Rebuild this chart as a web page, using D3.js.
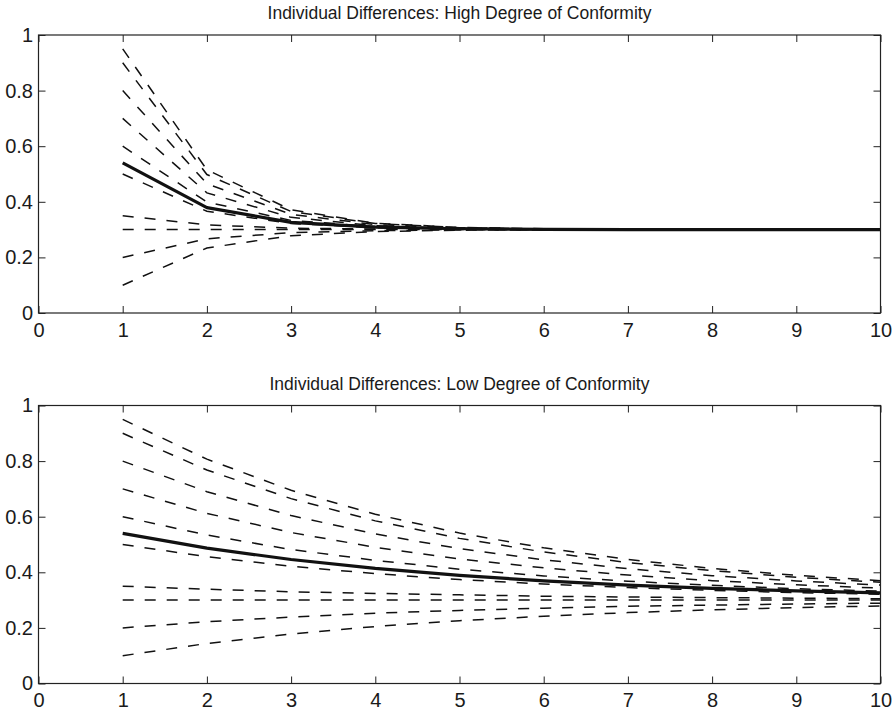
<!DOCTYPE html>
<html><head><meta charset="utf-8">
<script src="https://cdn.jsdelivr.net/npm/d3@7"></script>
<style>body{margin:0;background:#fff}svg{display:block}text{font-family:"Liberation Sans",Arial,sans-serif;fill:#1a1a1a}</style>
</head><body>
<script>
const steps = [1,2,3,4,5,6,7,8,9,10];
const xTicks = [0,1,2,3,4,5,6,7,8,9,10];
const yTicks = [0,0.2,0.4,0.6,0.8,1];
const titles = ["Individual Differences: High Degree of Conformity","Individual Differences: Low Degree of Conformity"];

// High conformity: individual series (dashed)
const highIndividuals = [
  [0.95,0.515,0.371,0.323,0.308,0.303,0.301,0.300,0.300,0.300],
  [0.90,0.498,0.365,0.322,0.307,0.302,0.301,0.300,0.300,0.300],
  [0.80,0.465,0.355,0.318,0.306,0.302,0.301,0.300,0.300,0.300],
  [0.70,0.432,0.344,0.314,0.305,0.302,0.300,0.300,0.300,0.300],
  [0.60,0.399,0.333,0.311,0.304,0.301,0.300,0.300,0.300,0.300],
  [0.50,0.366,0.322,0.307,0.302,0.301,0.300,0.300,0.300,0.300],
  [0.35,0.317,0.305,0.302,0.301,0.300,0.300,0.300,0.300,0.300],
  [0.30,0.300,0.300,0.300,0.300,0.300,0.300,0.300,0.300,0.300],
  [0.20,0.267,0.289,0.296,0.299,0.300,0.300,0.300,0.300,0.300],
  [0.10,0.234,0.278,0.293,0.298,0.299,0.300,0.300,0.300,0.300]
];
const highMean = [0.54,0.379,0.326,0.309,0.303,0.301,0.300,0.300,0.300,0.300];

// Low conformity
const lowIndividuals = [
  [0.95,0.807,0.695,0.609,0.541,0.488,0.446,0.414,0.389,0.370],
  [0.90,0.768,0.665,0.585,0.522,0.473,0.435,0.406,0.382,0.364],
  [0.80,0.690,0.604,0.538,0.485,0.445,0.413,0.388,0.369,0.354],
  [0.70,0.612,0.543,0.490,0.448,0.416,0.390,0.370,0.355,0.343],
  [0.60,0.534,0.482,0.443,0.411,0.387,0.368,0.353,0.341,0.332],
  [0.50,0.456,0.422,0.395,0.374,0.358,0.345,0.335,0.327,0.321],
  [0.35,0.339,0.330,0.324,0.319,0.314,0.311,0.309,0.307,0.305],
  [0.30,0.300,0.300,0.300,0.300,0.300,0.300,0.300,0.300,0.300],
  [0.20,0.222,0.239,0.253,0.263,0.271,0.278,0.282,0.286,0.289],
  [0.10,0.144,0.178,0.205,0.226,0.242,0.255,0.265,0.273,0.279]
];
const lowMean = [0.54,0.487,0.446,0.414,0.389,0.369,0.354,0.342,0.333,0.326];

const W = 896, H = 711;
const svg = d3.select("body").append("svg").attr("width", W).attr("height", H);

const panels = [
  {title: titles[0], ind: highIndividuals, mean: highMean, top: 35, bottom: 313, titleY: 19},
  {title: titles[1], ind: lowIndividuals, mean: lowMean, top: 405.5, bottom: 683.5, titleY: 390}
];
const left = 38.5, right = 880.5, tickLen = 7;
const FONT = '"Liberation Sans",Arial,sans-serif';

panels.forEach(p => {
  const x = d3.scaleLinear().domain([0,10]).range([left, right]);
  const y = d3.scaleLinear().domain([0,1]).range([p.bottom, p.top]);
  const g = svg.append("g");
  const line = d3.line().x((d,i) => x(steps[i])).y(d => y(d));

  g.selectAll("path.ind").data(p.ind).enter().append("path")
    .attr("class","ind").attr("d", line)
    .attr("fill","none").attr("stroke","#111").attr("stroke-width",1.5)
    .attr("stroke-dasharray","11,11");
  g.append("path").datum(p.mean).attr("d", line)
    .attr("fill","none").attr("stroke","#111").attr("stroke-width",3.2)
    .attr("stroke-linejoin","round");

  g.append("rect").attr("x",left).attr("y",p.top).attr("width",right-left).attr("height",p.bottom-p.top)
    .attr("fill","none").attr("stroke","#222").attr("stroke-width",1.2);

  const xb = d3.axisBottom(x).tickValues(xTicks).tickSizeInner(-tickLen).tickSizeOuter(0).tickFormat(d3.format("d"));
  const gx = g.append("g").attr("transform",`translate(0,${p.bottom})`).call(xb);
  const xt = d3.axisTop(x).tickValues(xTicks).tickSizeInner(-tickLen).tickSizeOuter(0).tickFormat("");
  const gxt = g.append("g").attr("transform",`translate(0,${p.top})`).call(xt);
  const yl = d3.axisLeft(y).tickValues(yTicks).tickSizeInner(-tickLen).tickSizeOuter(0).tickPadding(5.5).tickFormat(d => d===0||d===1 ? d3.format("d")(d) : d3.format(".1f")(d));
  const gy = g.append("g").attr("transform",`translate(${left},0)`).call(yl);
  const yr = d3.axisRight(y).tickValues(yTicks).tickSizeInner(-tickLen).tickSizeOuter(0).tickFormat("");
  const gyr = g.append("g").attr("transform",`translate(${right},0)`).call(yr);
  [gx,gxt,gy,gyr].forEach(a => {
    a.attr("font-family", FONT).attr("font-size", 20);
    a.select(".domain").remove();
    a.selectAll("line").attr("stroke","#222").attr("stroke-width",1);
    a.selectAll("text").style("font-family",FONT).style("font-size","20px").attr("fill","#1a1a1a");
  });
  gx.selectAll("text").attr("dy","0").attr("y", 23.5);

  g.append("text").attr("x",(left+right)/2).attr("y",p.titleY)
    .attr("text-anchor","middle").style("font-family",FONT).style("font-size","17.5px").text(p.title);
});
</script>
</body></html>
